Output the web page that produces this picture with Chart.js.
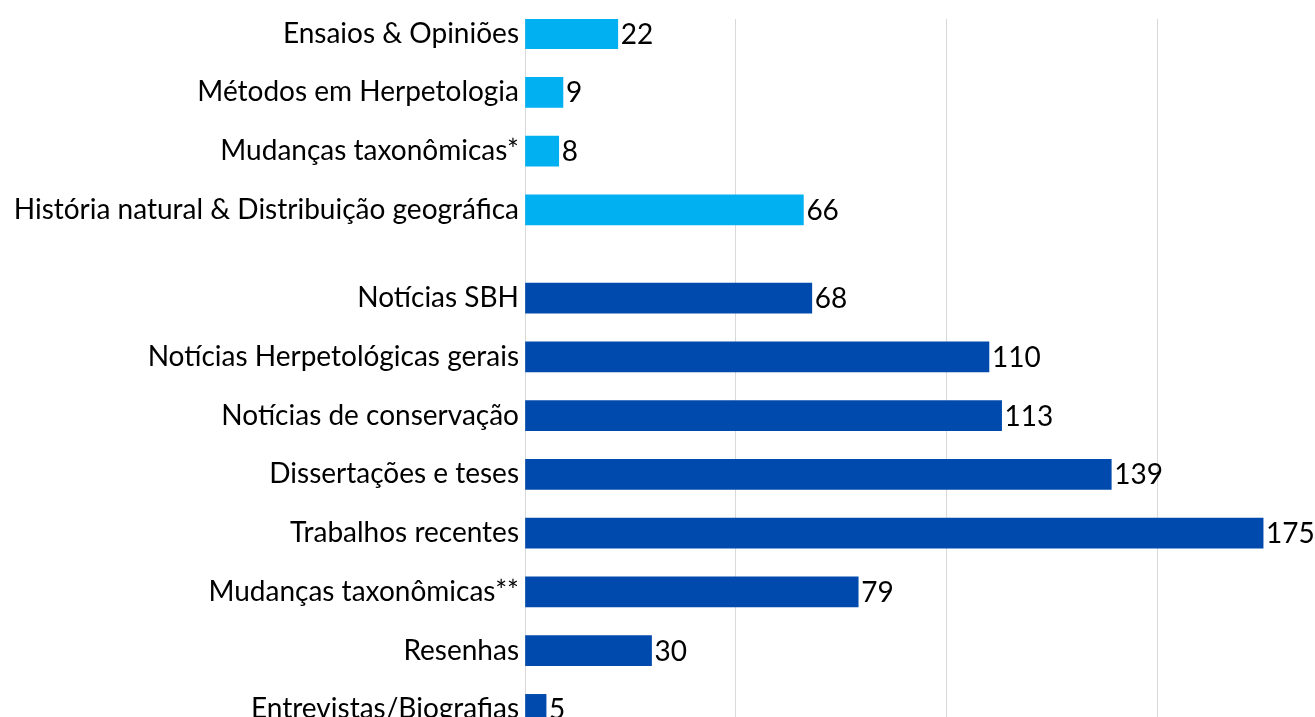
<!DOCTYPE html>
<html>
<head>
<meta charset="utf-8">
<script src="https://cdn.jsdelivr.net/npm/chart.js@4/dist/chart.umd.min.js"></script>
<style>
  html, body { margin: 0; padding: 0; background: #ffffff; }
  #wrap { width: 1315px; height: 717px; position: relative; }
</style>
</head>
<body>
<div id="wrap"><canvas id="c" width="1315" height="717"></canvas></div>
<script>
// ---- data ----
const sectionLabels = [
  'Ensaios & Opiniões',
  'Métodos em Herpetologia',
  'Mudanças taxonômicas*',
  'História natural & Distribuição geográfica'
];
const sectionValues = [22, 9, 8, 66];

const newsLabels = [
  'Notícias SBH',
  'Notícias Herpetológicas gerais',
  'Notícias de conservação',
  'Dissertações e teses',
  'Trabalhos recentes',
  'Mudanças taxonômicas**',
  'Resenhas',
  'Entrevistas/Biografias'
];
const newsValues = [68, 110, 113, 139, 175, 79, 30, 5];

const xGridTicks = [0, 50, 100, 150];

// ---- build rows (second group separated by a half-row gap) ----
const GROUP_GAP = 0.5;
const rowsA = sectionLabels.map((_, i) => i);
const rowsB = newsLabels.map((_, i) => sectionLabels.length + GROUP_GAP + i);
const rowLabel = {};
rowsA.forEach((r, i) => rowLabel[r] = sectionLabels[i]);
rowsB.forEach((r, i) => rowLabel[r] = newsLabels[i]);
const allRows = rowsA.concat(rowsB);

const FONT = 'Lato, "Open Sans", sans-serif';

const valueLabels = {
  id: 'valueLabels',
  afterDatasetsDraw(chart) {
    const ctx = chart.ctx;
    ctx.save();
    ctx.font = '28px ' + FONT;
    ctx.fillStyle = '#000000';
    ctx.textAlign = 'left';
    ctx.textBaseline = 'middle';
    chart.data.datasets.forEach((ds, di) => {
      const meta = chart.getDatasetMeta(di);
      meta.data.forEach((bar, i) => {
        ctx.fillText(String(ds.data[i].x), bar.x + 3, bar.y + 1);
      });
    });
    ctx.restore();
  }
};

new Chart(document.getElementById('c'), {
  type: 'bar',
  data: {
    datasets: [
      {
        label: 'Seções',
        data: sectionValues.map((v, i) => ({ x: v, y: rowsA[i] })),
        backgroundColor: '#00B0F0',
        borderWidth: 0,
        barThickness: 30,
        grouped: false
      },
      {
        label: 'Notícias',
        data: newsValues.map((v, i) => ({ x: v, y: rowsB[i] })),
        backgroundColor: '#004AAD',
        borderWidth: 0,
        barThickness: 30,
        grouped: false
      }
    ]
  },
  plugins: [valueLabels],
  options: {
    indexAxis: 'y',
    responsive: false,
    animation: false,
    devicePixelRatio: 1,
    layout: { padding: { top: 19, right: 0, bottom: 0, left: 0 } },
    plugins: {
      legend: { display: false },
      tooltip: { enabled: false }
    },
    scales: {
      x: {
        type: 'linear',
        position: 'bottom',
        min: 0,
        max: 187.3,
        afterBuildTicks(scale) {
          scale.ticks = xGridTicks.map(v => ({ value: v }));
        },
        afterFit(scale) {
          scale.height = 0;
          scale.paddingLeft = 0;
          scale.paddingRight = 0;
        },
        ticks: { display: false },
        grid: { color: '#D9D9D9', lineWidth: 1, drawTicks: false },
        border: { display: false }
      },
      y: {
        type: 'linear',
        reverse: true,
        offset: false,
        min: -0.25,
        max: 11.63,
        afterBuildTicks(scale) {
          scale.ticks = allRows.map(v => ({ value: v }));
        },
        afterFit(scale) {
          scale.width = 525;
          scale.paddingTop = 0;
          scale.paddingBottom = 0;
        },
        ticks: {
          autoSkip: false,
          padding: 6,
          color: '#000000',
          font: { family: FONT, size: 28 },
          callback: (v) => rowLabel[v] || ''
        },
        grid: { display: false, drawTicks: false },
        border: { display: false }
      }
    }
  }
});
</script>
</body>
</html>
